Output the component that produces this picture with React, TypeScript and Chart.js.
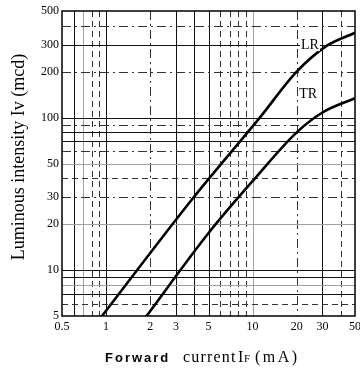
import React, { useEffect, useRef } from "react";
import { Chart, registerables } from "chart.js";

Chart.register(...registerables);

// Forward current IF (mA) and luminous intensity Iv (mcd)
const lrCurrent = [0.9, 3.9, 11.2, 20, 32, 50];
const lrIntensity = [4.75, 29.5, 100, 200, 295, 360];
const trCurrent = [1.8, 5.1, 10.4, 20, 30, 50];
const trIntensity = [4.7, 17.9, 40, 80, 108, 134];

const xTickLabels = [0.5, 1, 2, 3, 5, 10, 20, 30, 50];
const yTickLabels = [5, 10, 20, 30, 50, 100, 200, 300, 500];

const xGridValues = [0.6, 0.7, 0.8, 0.9, 1, 2, 3, 4, 5, 6, 7, 8, 9, 10, 20, 30, 40];
const yGridValues = [6, 7, 8, 9, 10, 20, 30, 40, 50, 60, 70, 80, 90, 100, 200, 300, 400];

const seriesLabels = [
  { text: "LR", x: 21.4, y: 299 },
  { text: "TR", x: 20.8, y: 143 },
];

type LineStyle = "solid" | "gray" | "dash" | "dashdot";
const xGridStyle: Record<string, LineStyle> = {
  "0.6": "solid", "0.7": "gray", "0.8": "dash", "0.9": "dash", "1": "solid",
  "2": "dashdot", "3": "solid", "4": "solid", "5": "solid", "6": "dash",
  "7": "dash", "8": "dash", "9": "dash", "10": "gray", "20": "dashdot",
  "30": "solid", "40": "dash",
};
const yGridStyle: Record<string, LineStyle> = {
  "6": "dash", "7": "solid", "8": "gray", "9": "solid", "10": "solid",
  "20": "gray", "30": "dashdot", "40": "dash", "50": "gray", "60": "dashdot",
  "70": "solid", "80": "solid", "90": "dashdot", "100": "solid",
  "200": "dashdot", "300": "solid", "400": "dashdot",
};

function applyStyle(ctx: CanvasRenderingContext2D, s: LineStyle) {
  ctx.lineWidth = 1;
  if (s === "gray") {
    ctx.strokeStyle = "#a0a0a0";
    ctx.setLineDash([]);
  } else if (s === "dash") {
    ctx.strokeStyle = "#333";
    ctx.setLineDash([6, 4]);
  } else if (s === "dashdot") {
    ctx.strokeStyle = "#333";
    ctx.setLineDash([9, 4, 2, 4]);
  } else {
    ctx.strokeStyle = "#111";
    ctx.setLineDash([]);
  }
}

const gridPlugin = {
  id: "logGrid",
  beforeDatasetsDraw(chart: any) {
    const { ctx, chartArea: a, scales } = chart;
    const xs = scales.x;
    const ys = scales.y;
    ctx.save();
    xGridValues.forEach((v) => {
      const px = Math.round(xs.getPixelForValue(v)) + 0.5;
      applyStyle(ctx, xGridStyle[String(v)] || "solid");
      ctx.beginPath();
      ctx.moveTo(px, a.top);
      ctx.lineTo(px, a.bottom);
      ctx.stroke();
    });
    yGridValues.forEach((v) => {
      const py = Math.round(ys.getPixelForValue(v)) + 0.5;
      applyStyle(ctx, yGridStyle[String(v)] || "solid");
      ctx.beginPath();
      ctx.moveTo(a.left, py);
      ctx.lineTo(a.right, py);
      ctx.stroke();
    });
    ctx.setLineDash([]);
    ctx.strokeStyle = "#000";
    ctx.lineWidth = 1.5;
    ctx.strokeRect(a.left, a.top, a.right - a.left, a.bottom - a.top);
    ctx.restore();
  },
  afterDraw(chart: any) {
    const { ctx, scales } = chart;
    ctx.save();
    ctx.fillStyle = "#000";
    ctx.textBaseline = "middle";
    // series labels
    ctx.font = '14px "Liberation Serif"';
    seriesLabels.forEach((l) => {
      const px = scales.x.getPixelForValue(l.x);
      const py = scales.y.getPixelForValue(l.y);
      const w = ctx.measureText(l.text).width;
      ctx.fillStyle = "#fff";
      ctx.fillRect(px - 1, py - 7, w + 2, 13);
      ctx.fillStyle = "#000";
      ctx.textAlign = "left";
      ctx.fillText(l.text, px, py);
    });
    // y title
    ctx.save();
    ctx.translate(19, 157);
    ctx.rotate(-Math.PI / 2);
    ctx.textAlign = "center";
    ctx.font = '18px "Liberation Serif"';
    ctx.fillText("Luminous intensity Iv (mcd)", 0, 0);
    ctx.restore();
    // x title
    ctx.textAlign = "left";
    ctx.textBaseline = "alphabetic";
    const base = 361.5;
    (ctx as any).letterSpacing = "2px";
    ctx.font = 'bold 13px "Liberation Sans"';
    ctx.fillText("Forward", 105, base);
    (ctx as any).letterSpacing = "1.2px";
    ctx.font = '16px "Liberation Serif"';
    ctx.fillText("current", 183, base);
    (ctx as any).letterSpacing = "0px";
    ctx.fillText("I", 238, base);
    ctx.font = '11px "Liberation Serif"';
    ctx.fillText("F", 244, base);
    (ctx as any).letterSpacing = "2.5px";
    ctx.font = '16px "Liberation Serif"';
    ctx.fillText("(mA)", 255, base);
    ctx.restore();
  },
};

export default function App() {
  const ref = useRef<HTMLCanvasElement | null>(null);
  useEffect(() => {
    if (!ref.current) return;
    const chart = new Chart(ref.current, {
      type: "line",
      data: {
        datasets: [
          {
            label: "LR",
            data: lrCurrent.map((x, i) => ({ x, y: lrIntensity[i] })),
            borderColor: "#000",
            borderWidth: 2.6,
            pointRadius: 0,
            cubicInterpolationMode: "monotone",
            fill: false,
            clip: 0,
          } as any,
          {
            label: "TR",
            data: trCurrent.map((x, i) => ({ x, y: trIntensity[i] })),
            borderColor: "#000",
            borderWidth: 2.6,
            pointRadius: 0,
            cubicInterpolationMode: "monotone",
            fill: false,
            clip: 0,
          } as any,
        ],
      },
      options: {
        animation: false,
        responsive: true,
        maintainAspectRatio: false,
        layout: { padding: { top: 11, right: 5, left: 0, bottom: 0 }, autoPadding: false } as any,
        plugins: { legend: { display: false }, tooltip: { enabled: false } },
        scales: {
          x: {
            type: "logarithmic",
            min: 0.5,
            max: 50,
            grid: { display: false, drawTicks: false },
            border: { display: false },
            afterBuildTicks: (s: any) => {
              s.ticks = xTickLabels.map((v) => ({ value: v }));
            },
            afterFit: (s: any) => {
              s.height = 52;
              s.paddingLeft = 0;
              s.paddingRight = 0;
            },
            ticks: {
              autoSkip: false,
              maxRotation: 0,
              padding: 4,
              color: "#000",
              font: { family: '"Liberation Serif"', size: 12 },
              callback: (v: any) => String(v),
            },
          },
          y: {
            type: "logarithmic",
            min: 5,
            max: 500,
            grid: { display: false, drawTicks: false },
            border: { display: false },
            afterBuildTicks: (s: any) => {
              s.ticks = yTickLabels.map((v) => ({ value: v }));
            },
            afterFit: (s: any) => {
              s.width = 62;
              s.paddingTop = 0;
              s.paddingBottom = 0;
            },
            ticks: {
              autoSkip: false,
              padding: 3,
              color: "#000",
              font: { family: '"Liberation Serif"', size: 12 },
              callback: (v: any) => String(v),
            },
          },
        },
      },
      plugins: [gridPlugin],
    });
    return () => chart.destroy();
  }, []);
  return (
    <div style={{ position: "fixed", left: 0, top: 0, width: 360, height: 368, background: "#fff" }}>
      <canvas ref={ref} />
    </div>
  );
}
